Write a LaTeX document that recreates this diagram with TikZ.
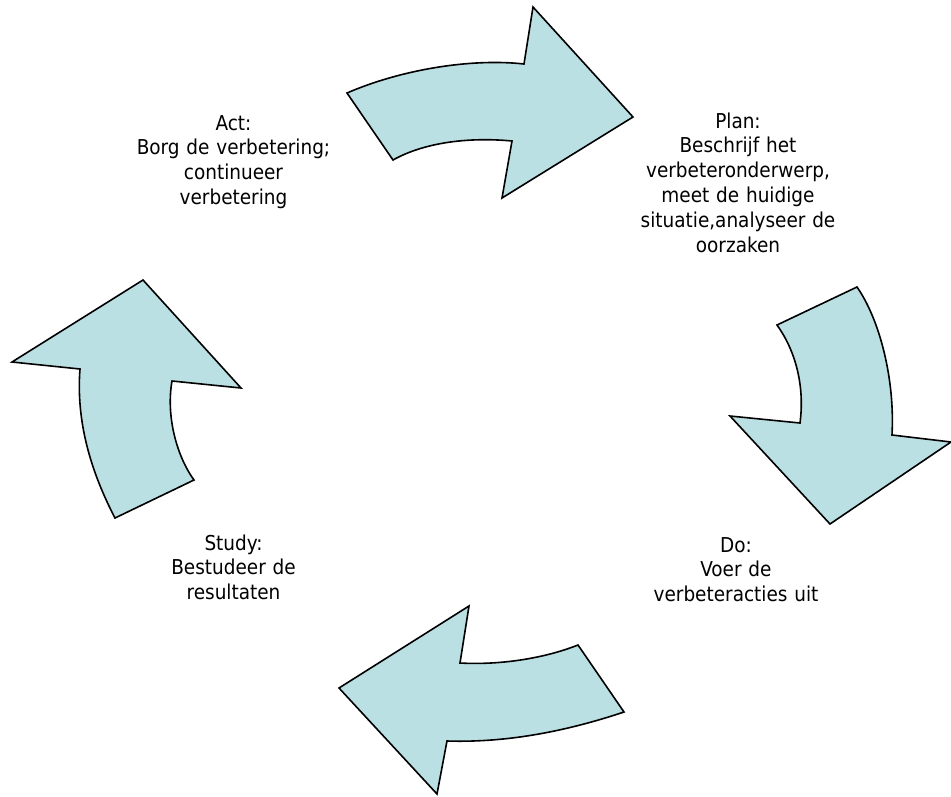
\documentclass[tikz,border=0pt]{standalone}
\usepackage{fontspec}
\setmainfont{DejaVu Sans Condensed}

\definecolor{arrowfill}{RGB}{187,224,227}
\tikzset{
  cyclearrow/.style={draw=black, line width=1.6pt, fill=arrowfill},
  phase/.style={text width=8cm, align=center, anchor=base, inner sep=0pt,
    font=\fontsize{20.5}{24.8}\selectfont}
}

\begin{document}
\begin{tikzpicture}[x=1pt,y=-1pt]
  \useasboundingbox (0,0) rectangle (951,796);

  % the four curved arrows of the cycle
  \draw[cyclearrow] (347,93) .. controls (400,70) and (470,58) .. (524,64)
    -- (533,7) -- (633,117) -- (502,198) -- (512,141)
    .. controls (470,137) and (425,142) .. (393,160) -- cycle;
  \draw[cyclearrow] (777,325) -- (857,287)
    .. controls (880,320) and (895,380) .. (892,435)
    -- (951,442) -- (830,524) -- (730,416) -- (800,423)
    .. controls (805,385) and (795,350) .. (777,325) -- cycle;
  \draw[cyclearrow] (469,606) -- (339,688) -- (437,794) -- (447,741)
    .. controls (510,743) and (570,730) .. (624,712) -- (578,645)
    .. controls (540,660) and (495,665) .. (460,663) -- cycle;
  \draw[cyclearrow] (143,280) -- (241,388) -- (172,381)
    .. controls (166,415) and (176,455) .. (194,480) -- (115,518)
    .. controls (90,470) and (76,420) .. (80,369) -- (12,362) -- cycle;

  % phase texts
  \node[phase] (act) at (233.5,130) {Act:\\Borg de verbetering;\\continueer\\verbetering};
  \node[phase] (plan) at (738,128) {Plan:\\Beschrijf het\\verbeteronderwerp,\\meet de huidige\\situatie,analyseer de\\oorzaken};
  \node[phase] (do) at (736,552) {Do:\\Voer de\\verbeteracties uit};
  \node[phase] (study) at (233.5,550) {Study:\\Bestudeer de\\resultaten};
\end{tikzpicture}
\end{document}
